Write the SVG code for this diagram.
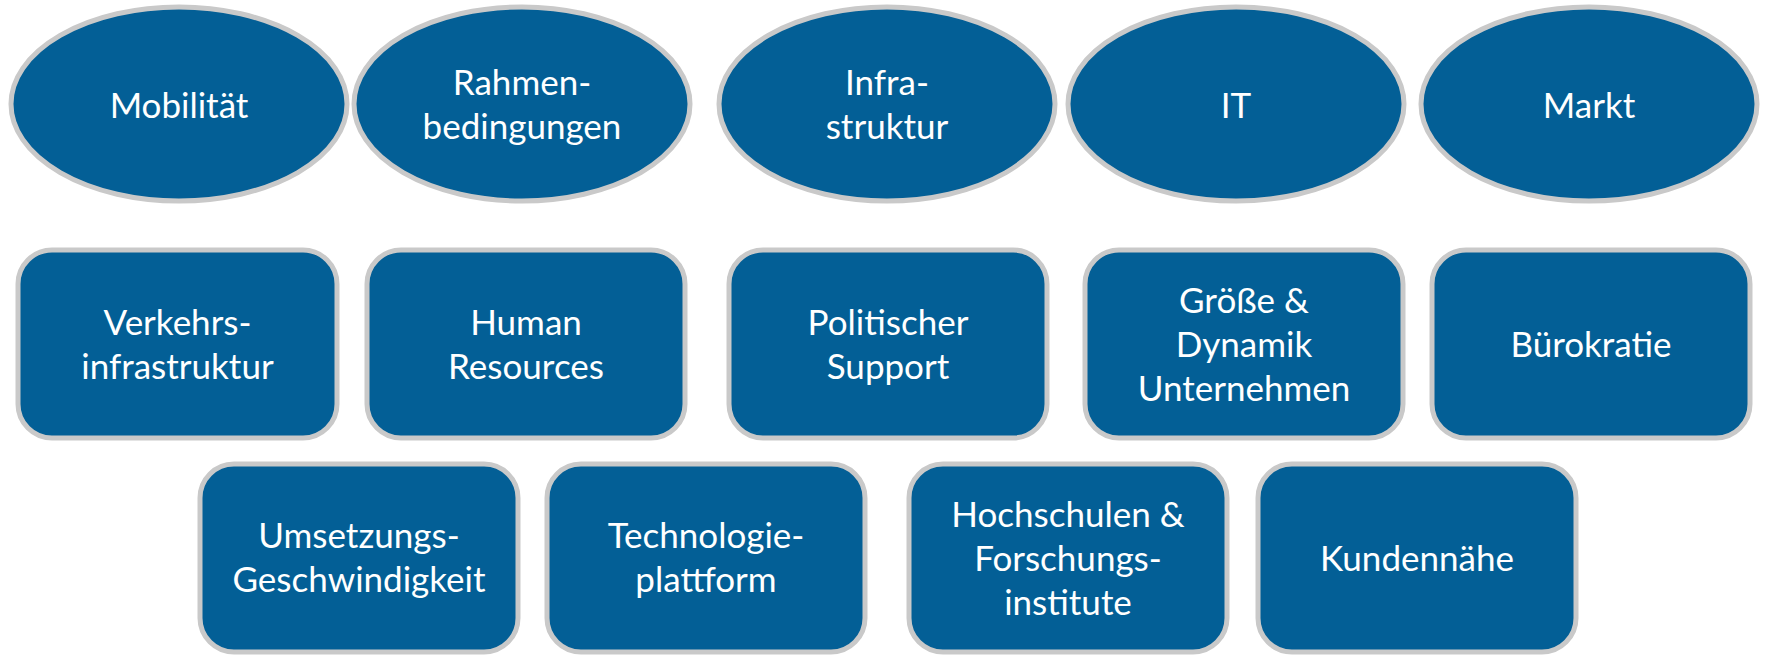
<svg xmlns="http://www.w3.org/2000/svg" width="1765" height="655" viewBox="0 0 1765 655">
<style>
.n{fill:#035f96;stroke:#c9c9c9;stroke-width:5}
.t{font-family:Lato,"Liberation Sans",sans-serif;font-size:35px;fill:#ffffff;text-anchor:middle}
</style>
<rect width="1765" height="655" fill="#ffffff"/>
<g id="connectors"/>
<g id="mobilitaet"><ellipse class="n" cx="179" cy="104" rx="168" ry="97"/><text class="t" x="179" y="118">Mobilität</text></g>
<g id="rahmen"><ellipse class="n" cx="522" cy="104" rx="168" ry="97"/><text class="t" x="522" y="95">Rahmen-</text><text class="t" x="522" y="139">bedingungen</text></g>
<g id="infra"><ellipse class="n" cx="887" cy="104" rx="168" ry="97"/><text class="t" x="887" y="95">Infra-</text><text class="t" x="887" y="139">struktur</text></g>
<g id="it"><ellipse class="n" cx="1236" cy="104" rx="168" ry="97"/><text class="t" x="1236" y="118">IT</text></g>
<g id="markt"><ellipse class="n" cx="1589" cy="104" rx="168" ry="97"/><text class="t" x="1589" y="118">Markt</text></g>
<g id="verkehr"><rect class="n" x="18" y="250" width="319" height="188" rx="34"/><text class="t" x="177.5" y="335">Verkehrs-</text><text class="t" x="177.5" y="379">infrastruktur</text></g>
<g id="human"><rect class="n" x="367" y="250" width="318" height="188" rx="34"/><text class="t" x="526" y="335">Human</text><text class="t" x="526" y="379">Resources</text></g>
<g id="politik"><rect class="n" x="729" y="250" width="318" height="188" rx="34"/><text class="t" x="888" y="335">Politischer</text><text class="t" x="888" y="379">Support</text></g>
<g id="groesse"><rect class="n" x="1085" y="250" width="318" height="188" rx="34"/><text class="t" x="1244" y="313">Größe &amp;</text><text class="t" x="1244" y="357">Dynamik</text><text class="t" x="1244" y="401">Unternehmen</text></g>
<g id="buero"><rect class="n" x="1432" y="250" width="318" height="188" rx="34"/><text class="t" x="1591" y="357">Bürokratie</text></g>
<g id="umsetzung"><rect class="n" x="200" y="464" width="318" height="188" rx="34"/><text class="t" x="359" y="548">Umsetzungs-</text><text class="t" x="359" y="592">Geschwindigkeit</text></g>
<g id="technologie"><rect class="n" x="547" y="464" width="318" height="188" rx="34"/><text class="t" x="706" y="548">Technologie-</text><text class="t" x="706" y="592">plattform</text></g>
<g id="hochschulen"><rect class="n" x="909" y="464" width="318" height="188" rx="34"/><text class="t" x="1068" y="527">Hochschulen &amp;</text><text class="t" x="1068" y="571">Forschungs-</text><text class="t" x="1068" y="615">institute</text></g>
<g id="kunden"><rect class="n" x="1258" y="464" width="318" height="188" rx="34"/><text class="t" x="1417" y="571">Kundennähe</text></g>
</svg>
